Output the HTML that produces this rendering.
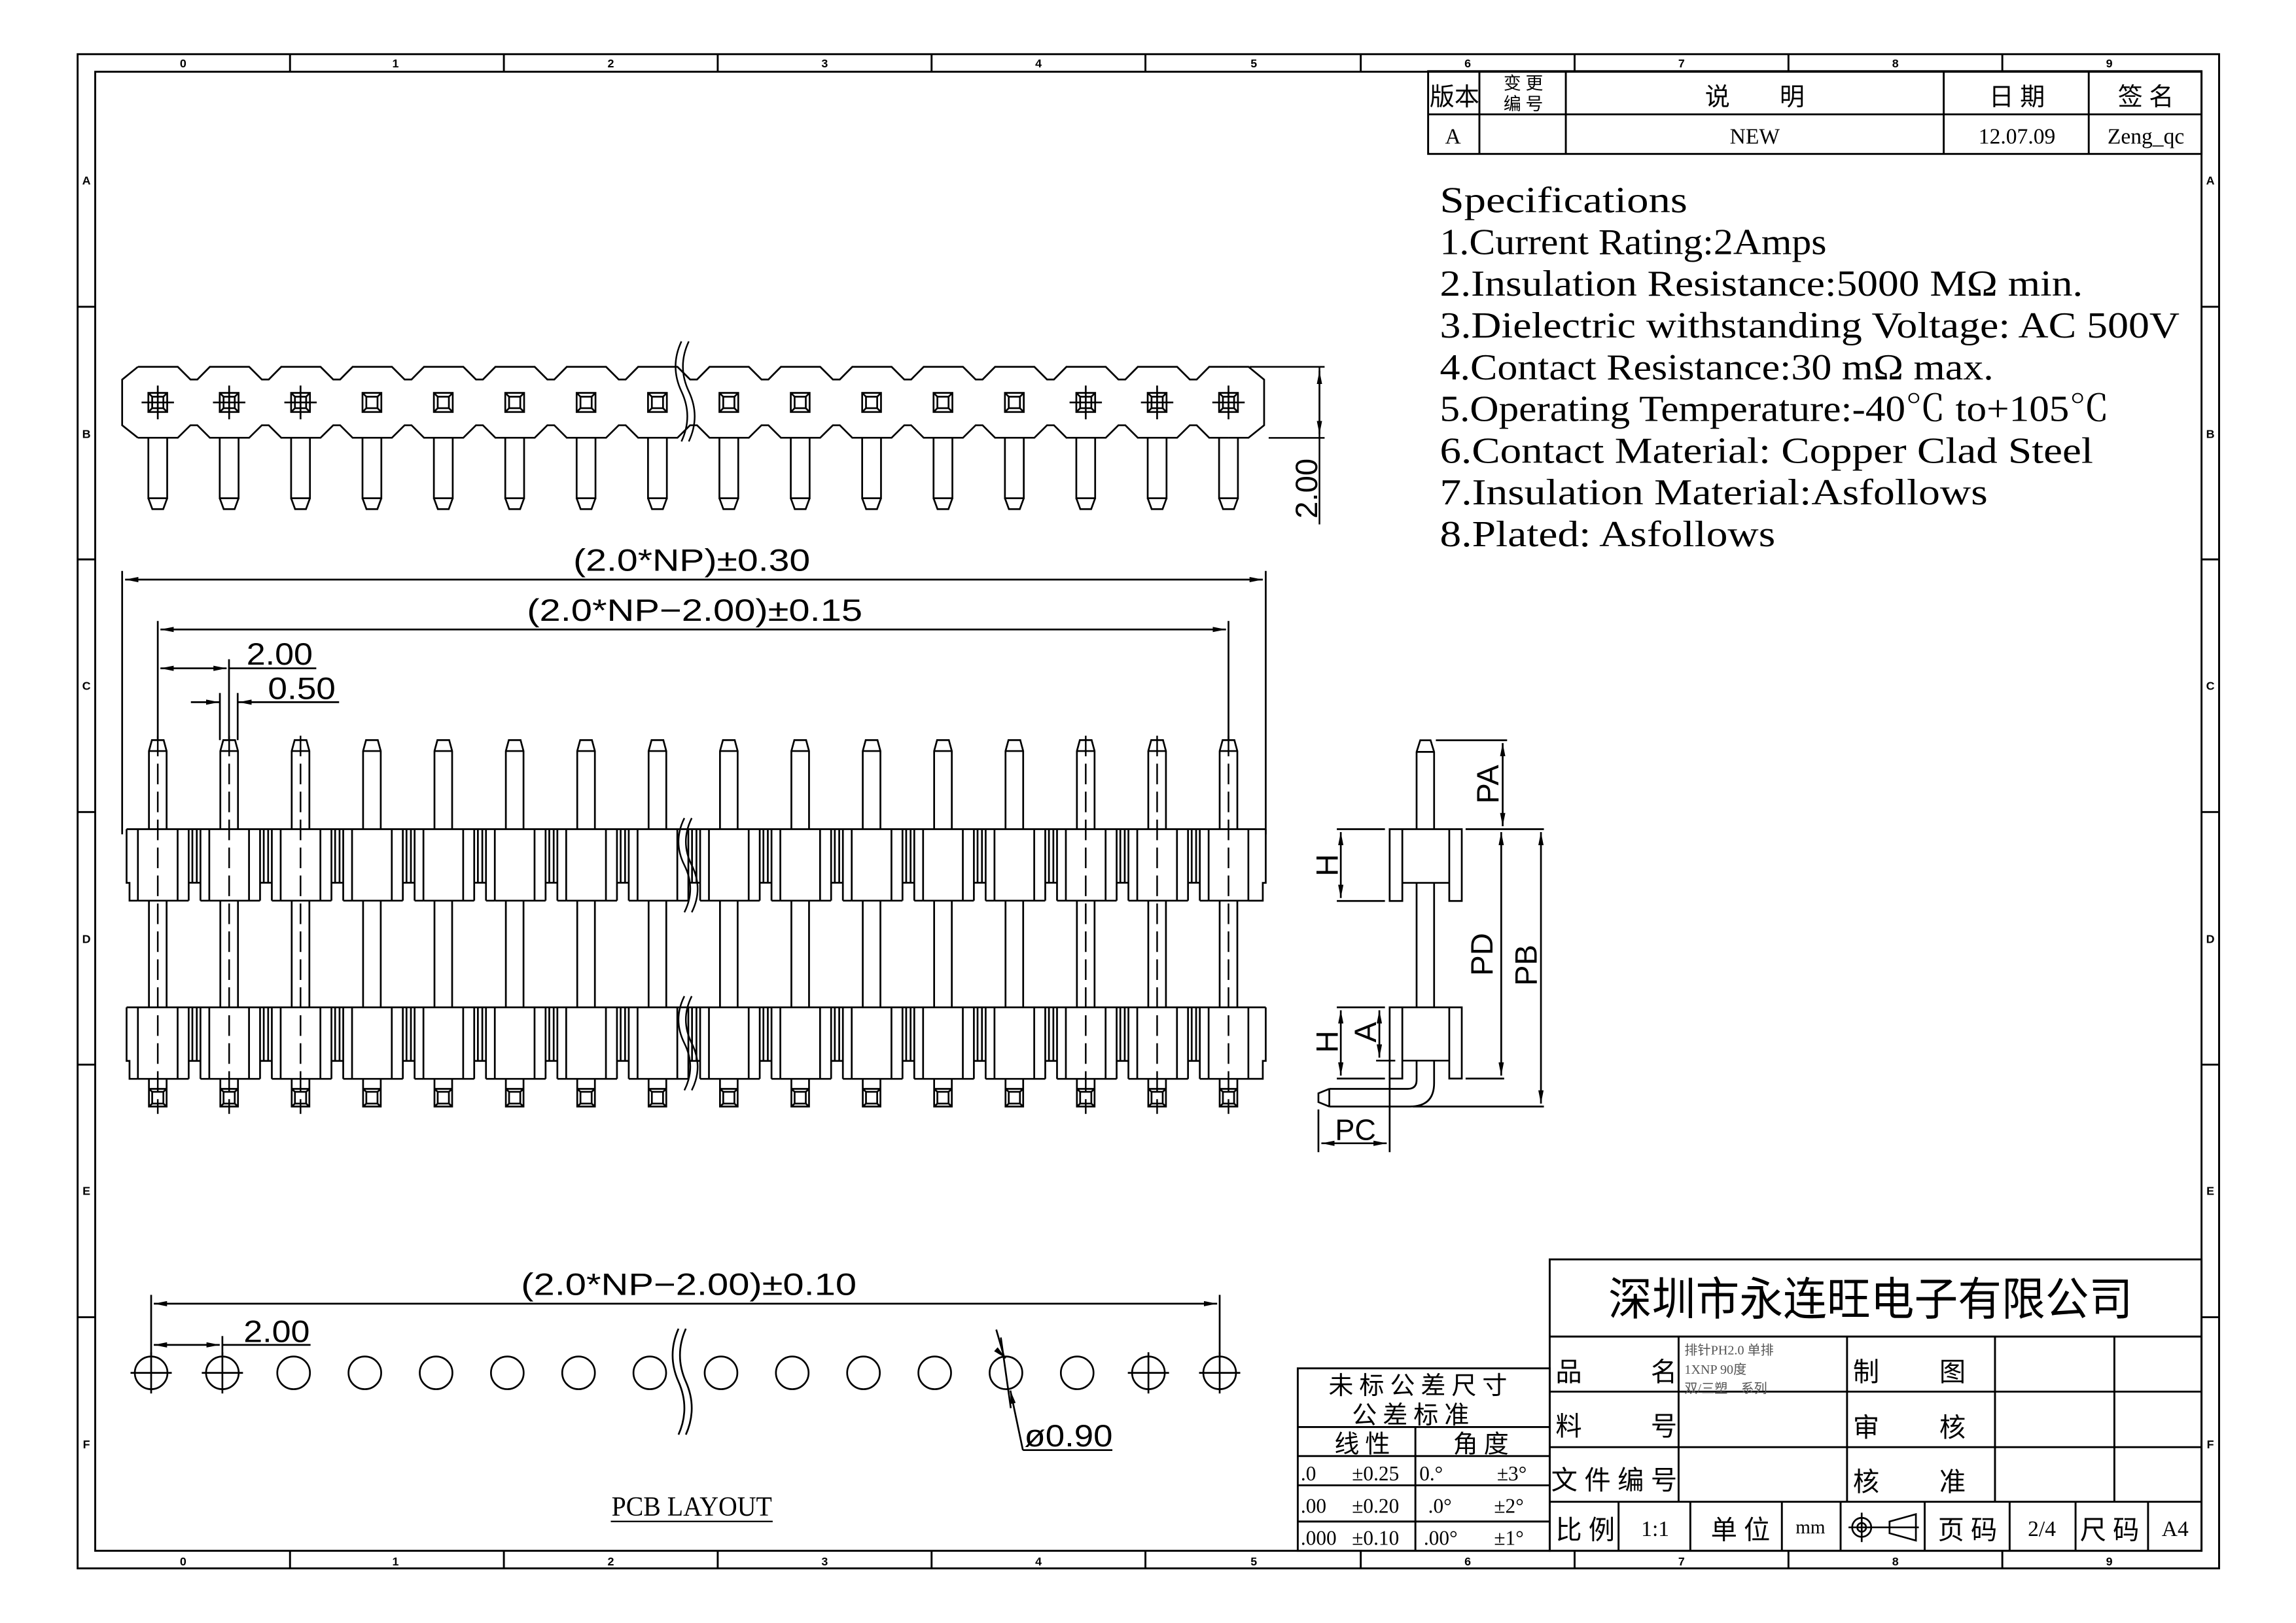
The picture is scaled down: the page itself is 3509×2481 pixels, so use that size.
<!DOCTYPE html>
<html><head><meta charset="utf-8"><style>
html,body{margin:0;padding:0;background:#fff;}
svg{display:block;}
.s{font-family:"Liberation Sans",sans-serif;}
.r{font-family:"Liberation Serif","Noto Serif CJK SC",serif;}
.c{font-family:"Liberation Serif","Noto Sans CJK SC",sans-serif;}
</style></head><body>
<svg width="3509" height="2481" viewBox="0 0 1567.5 1108.3" preserveAspectRatio="none" xmlns="http://www.w3.org/2000/svg">
<rect width="1567.5" height="1108.3" fill="#fff"/>
<defs>
<marker id="ar" viewBox="0 0 10 4" refX="10" refY="2" markerWidth="9" markerHeight="3.6" markerUnits="userSpaceOnUse" orient="auto-start-reverse"><path d="M0,0 L10,2 L0,4 Z" fill="#000"/></marker>
<g id="tvseg" fill="none" stroke="#000" stroke-width="1.2">
<path d="M-13.5,249.3 H13.6 L22.2,257.9 H26.9 L35.4,249.3 M-13.5,297.5 H13.6 L22.2,289 H26.9 L35.4,297.5"/>
</g>
<g id="tvsq" fill="none" stroke="#000" stroke-width="1.2">
<rect x="-6.4" y="267" width="12.8" height="13"/>
<rect x="-3.8" y="269.6" width="7.6" height="7.8"/>
<path d="M-6.4,267 L-3.8,269.6 M6.4,267 L3.8,269.6 M-6.4,280 L-3.8,277.4 M6.4,280 L3.8,277.4"/>
<path d="M-6.4,297.5 V338.6 H6.4 V297.5 M-6.4,338.6 L-3.7,346 H3.7 L6.4,338.6"/>
</g>
<g id="cross" stroke="#000" stroke-width="1.2"><path d="M-11,273.5 H11 M0,262 V285"/></g>
<g id="fpin" fill="none" stroke="#000" stroke-width="1.2">
<path d="M-6,563.5 V510.4 L-4,503 H4 L6,510.4 V563.5 M-6,510.4 H6"/>
<path d="M-6,612 V684.6 M6,612 V684.6"/>
<path d="M-6,733 V752 H6 V733 M-6,740 H6"/>
<rect x="-3.8" y="742" width="7.6" height="8"/>
<path d="M-6,740 L-3.8,742 M6,740 L3.8,742 M-6,752 L-3.8,750 M6,752 L3.8,750"/>
</g>
<g id="fh" fill="none" stroke="#000" stroke-width="1.2">
<path d="M-13.5,0 V48.6 M13.5,0 V48.6 M21,0 V48.6 M29,0 V48.6 M23.5,0 V36.4 M26.5,0 V36.4 M21,36.4 H29 M-13.5,48.6 H21 M29,48.6 H35"/>
</g>
<g id="fhl" fill="none" stroke="#000" stroke-width="1.2">
<path d="M-13.5,0 V48.6 M13.5,0 V48.6 M-13.5,48.6 H23.5"/>
</g>
<g id="cl" stroke="#000" stroke-width="1.1" stroke-dasharray="14 5"><path d="M0,500 V757"/></g>
<circle id="ph" cx="0" cy="933" r="11.1" fill="none" stroke="#000" stroke-width="1.2"/>
<g id="phc" stroke="#000" stroke-width="1.2"><path d="M-14,933 H14 M0,919 V947"/></g>
</defs>

<!-- frame -->
<g fill="none" stroke="#000" stroke-width="1.3">
<rect x="53" y="37" width="1462" height="1034"/>
<rect x="65" y="49" width="1438" height="1010"/>
<path d="M198,37V49M344,37V49M490,37V49M636,37V49M782,37V49M929,37V49M1075,37V49M1221,37V49M1367,37V49
M198,1059V1071M344,1059V1071M490,1059V1071M636,1059V1071M782,1059V1071M929,1059V1071M1075,1059V1071M1221,1059V1071M1367,1059V1071
M53,209.5H65M53,382H65M53,554.5H65M53,727H65M53,899.5H65
M1503,209.5H1515M1503,382H1515M1503,554.5H1515M1503,727H1515M1503,899.5H1515"/>
</g>
<g class="s" font-size="8" font-weight="bold" text-anchor="middle">
<text x="125" y="46">0</text><text x="270" y="46">1</text><text x="417" y="46">2</text><text x="563" y="46">3</text><text x="709" y="46">4</text><text x="856" y="46">5</text><text x="1002" y="46">6</text><text x="1148" y="46">7</text><text x="1294" y="46">8</text><text x="1440" y="46">9</text>
<text x="125" y="1069">0</text><text x="270" y="1069">1</text><text x="417" y="1069">2</text><text x="563" y="1069">3</text><text x="709" y="1069">4</text><text x="856" y="1069">5</text><text x="1002" y="1069">6</text><text x="1148" y="1069">7</text><text x="1294" y="1069">8</text><text x="1440" y="1069">9</text>
<text x="59" y="126">A</text><text x="59" y="299">B</text><text x="59" y="471">C</text><text x="59" y="644">D</text><text x="59" y="816">E</text><text x="59" y="989">F</text>
<text x="1509" y="126">A</text><text x="1509" y="299">B</text><text x="1509" y="471">C</text><text x="1509" y="644">D</text><text x="1509" y="816">E</text><text x="1509" y="989">F</text>
</g>

<!-- revision table -->
<g fill="none" stroke="#000" stroke-width="1.3">
<rect x="975" y="48.6" width="528" height="56.5"/>
<path d="M975,78.1H1503M1010,48.6V105M1069,48.6V105M1327,48.6V105M1426,48.6V105"/>
</g>
<g class="c" font-size="17" text-anchor="middle">
<text x="993" y="72">版本</text>
<text x="1040" y="61" font-size="12">变 更</text><text x="1040" y="75" font-size="12">编 号</text>
<text x="1198" y="72">说　　明</text><text x="1377" y="72">日 期</text><text x="1465" y="72">签 名</text>
</g>
<g class="r" font-size="15" text-anchor="middle">
<text x="992" y="98">A</text><text x="1198" y="98">NEW</text><text x="1377" y="98">12.07.09</text><text x="1465" y="98">Zeng_qc</text>
</g>

<!-- specifications -->
<g class="r" font-size="25" fill="#000">
<text x="983" y="145" textLength="169" lengthAdjust="spacingAndGlyphs">Specifications</text>
<text x="983" y="173.5" textLength="264" lengthAdjust="spacingAndGlyphs">1.Current Rating:2Amps</text>
<text x="983" y="202" textLength="439" lengthAdjust="spacingAndGlyphs">2.Insulation Resistance:5000 MΩ min.</text>
<text x="983" y="230.5" textLength="505" lengthAdjust="spacingAndGlyphs">3.Dielectric withstanding Voltage: AC 500V</text>
<text x="983" y="259" textLength="378" lengthAdjust="spacingAndGlyphs">4.Contact Resistance:30 mΩ max.</text>
<text x="983" y="287.5" textLength="457" lengthAdjust="spacingAndGlyphs">5.Operating Temperature:-40℃ to+105℃</text>
<text x="983" y="316" textLength="446" lengthAdjust="spacingAndGlyphs">6.Contact Material: Copper Clad Steel</text>
<text x="983" y="344.5" textLength="374" lengthAdjust="spacingAndGlyphs">7.Insulation Material:Asfollows</text>
<text x="983" y="373" textLength="229" lengthAdjust="spacingAndGlyphs">8.Plated: Asfollows</text>
</g>

<g transform="scale(1.0048)">
<!-- TOP VIEW -->
<g fill="none" stroke="#000" stroke-width="1.2">
<path d="M93.7,249.3 L83,258 V289 L93.7,297.5"/>
<path d="M834.7,249.3 H848.3 L858.9,258 V289 L848.3,297.5 H834.7"/>
</g>
<use href="#tvseg" x="107.2"/><use href="#tvseg" x="155.7"/><use href="#tvseg" x="204.2"/><use href="#tvseg" x="252.7"/><use href="#tvseg" x="301.2"/><use href="#tvseg" x="349.7"/><use href="#tvseg" x="398.2"/><use href="#tvseg" x="446.7"/><use href="#tvseg" x="495.2"/><use href="#tvseg" x="543.7"/><use href="#tvseg" x="592.2"/><use href="#tvseg" x="640.7"/><use href="#tvseg" x="689.2"/><use href="#tvseg" x="737.7"/><use href="#tvseg" x="786.2"/>
<g fill="none" stroke="#000" stroke-width="1.2"><path d="M821.2,249.3 H834.7 M821.2,297.5 H834.7"/></g>
<use href="#tvsq" x="107.2"/><use href="#tvsq" x="155.7"/><use href="#tvsq" x="204.2"/><use href="#tvsq" x="252.7"/><use href="#tvsq" x="301.2"/><use href="#tvsq" x="349.7"/><use href="#tvsq" x="398.2"/><use href="#tvsq" x="446.7"/><use href="#tvsq" x="495.2"/><use href="#tvsq" x="543.7"/><use href="#tvsq" x="592.2"/><use href="#tvsq" x="640.7"/><use href="#tvsq" x="689.2"/><use href="#tvsq" x="737.7"/><use href="#tvsq" x="786.2"/><use href="#tvsq" x="834.7"/>
<use href="#cross" x="107.2"/><use href="#cross" x="155.7"/><use href="#cross" x="204.2"/><use href="#cross" x="737.7"/><use href="#cross" x="786.2"/><use href="#cross" x="834.7"/>
<g fill="none" stroke="#000" stroke-width="1.1">
<path d="M463,232 q-8,17 0,34 q8,17 0,34"/><path d="M468,232 q-8,17 0,34 q8,17 0,34"/>
<path d="M849,249.3 H900 M862,297.6 H900 M896.5,249.3 V356.4"/>
<path d="M896.5,252 V295" marker-start="url(#ar)" marker-end="url(#ar)"/>
</g>
<text class="s" font-size="21" transform="translate(895,332) rotate(-90)" text-anchor="middle">2.00</text>

<!-- FRONT VIEW dims -->
<g fill="none" stroke="#000" stroke-width="1.2">
<path d="M83,388 V567 M860,388 V567 M107.2,422 V503 M834.7,422 V503 M155.6,448 V503"/>
<path d="M85,393.9 H858" marker-start="url(#ar)" marker-end="url(#ar)"/>
<path d="M109,427.8 H833" marker-start="url(#ar)" marker-end="url(#ar)"/>
<path d="M109,454.2 H154" marker-start="url(#ar)" marker-end="url(#ar)"/>
<path d="M155.6,454.2 H214.9"/>
<path d="M149.4,471 V503 M161.5,471 V503"/>
<path d="M129.7,477.2 H149" marker-end="url(#ar)"/>
<path d="M230.4,477.2 H162" marker-end="url(#ar)"/>
</g>
<g class="s" font-size="21" text-anchor="middle">
<text x="470" y="388" textLength="161" lengthAdjust="spacingAndGlyphs">(2.0*NP)±0.30</text>
<text x="472" y="422" textLength="228" lengthAdjust="spacingAndGlyphs">(2.0*NP−2.00)±0.15</text>
<text x="190" y="451.7" textLength="45" lengthAdjust="spacingAndGlyphs">2.00</text>
<text x="205" y="475" textLength="46" lengthAdjust="spacingAndGlyphs">0.50</text>
</g>

<!-- FRONT VIEW body -->
<g fill="none" stroke="#000" stroke-width="1.2">
<path d="M86,563.5 H860 M86,563.5 V600 H88 V612.1 H93.7 M860,563.5 V600 H858 V612.1 H848.2"/>
<path d="M86,684.6 H860 M86,684.6 V721 H88 V733.2 H93.7 M860,684.6 V721 H858 V733.2 H848.2"/>
</g>
<g transform="translate(0,563.5)">
<use href="#fh" x="107.2"/><use href="#fh" x="155.7"/><use href="#fh" x="204.2"/><use href="#fh" x="252.7"/><use href="#fh" x="301.2"/><use href="#fh" x="349.7"/><use href="#fh" x="398.2"/><use href="#fh" x="446.7"/><use href="#fh" x="495.2"/><use href="#fh" x="543.7"/><use href="#fh" x="592.2"/><use href="#fh" x="640.7"/><use href="#fh" x="689.2"/><use href="#fh" x="737.7"/><use href="#fh" x="786.2"/><use href="#fhl" x="834.7"/>
</g>
<g transform="translate(0,684.6)">
<use href="#fh" x="107.2"/><use href="#fh" x="155.7"/><use href="#fh" x="204.2"/><use href="#fh" x="252.7"/><use href="#fh" x="301.2"/><use href="#fh" x="349.7"/><use href="#fh" x="398.2"/><use href="#fh" x="446.7"/><use href="#fh" x="495.2"/><use href="#fh" x="543.7"/><use href="#fh" x="592.2"/><use href="#fh" x="640.7"/><use href="#fh" x="689.2"/><use href="#fh" x="737.7"/><use href="#fh" x="786.2"/><use href="#fhl" x="834.7"/>
</g>
<use href="#fpin" x="107.2"/><use href="#fpin" x="155.7"/><use href="#fpin" x="204.2"/><use href="#fpin" x="252.7"/><use href="#fpin" x="301.2"/><use href="#fpin" x="349.7"/><use href="#fpin" x="398.2"/><use href="#fpin" x="446.7"/><use href="#fpin" x="495.2"/><use href="#fpin" x="543.7"/><use href="#fpin" x="592.2"/><use href="#fpin" x="640.7"/><use href="#fpin" x="689.2"/><use href="#fpin" x="737.7"/><use href="#fpin" x="786.2"/><use href="#fpin" x="834.7"/>
<use href="#cl" x="107.2"/><use href="#cl" x="155.7"/><use href="#cl" x="204.2"/><use href="#cl" x="737.7"/><use href="#cl" x="786.2"/><use href="#cl" x="834.7"/>
<g fill="none" stroke="#000" stroke-width="1.1">
<path d="M465,556 q-8,16 0,32 q8,16 0,32"/><path d="M470,556 q-8,16 0,32 q8,16 0,32"/>
<path d="M465,677 q-8,16 0,32 q8,16 0,32"/><path d="M470,677 q-8,16 0,32 q8,16 0,32"/>
</g>

<!-- SIDE VIEW -->
<g fill="none" stroke="#000" stroke-width="1.2">
<path d="M962.5,563.5 V511 L965,503.1 H972 L974.4,511 V563.5 M962.5,511 H974.4"/>
<path d="M944.2,563.5 H993.2 V612.3 H984.7 V600 H952.8 V612.3 H944.2 Z M952.8,563.5 V600 M984.7,563.5 V600"/>
<path d="M944.2,684.6 H993.2 V733 H984.7 V720.8 H952.8 V733 H944.2 Z M952.8,684.6 V720.8 M984.7,684.6 V720.8"/>
<path d="M962.5,600 V684.6 M974.4,600 V684.6"/>
<path d="M962.5,720.8 V734 Q962.5,740 956.5,740 H903.2 M974.4,720.8 V736 Q974.4,752 958,752 H903.2 M903.2,740 V752 M903.2,740 L895.8,743 V749 L903.2,752"/>
<path d="M975.6,503.1 H1024 M995.8,563.5 H1049 M995.8,733 H1022 M960,752 H1049"/>
<path d="M908.3,563.5 H941 M908.3,612.3 H941 M908.3,684.6 H941 M908.3,733 H941 M935,720.8 H948"/>
<path d="M895.8,754 V783 M944.2,733 V783"/>
<path d="M1021,505 V561.5" marker-start="url(#ar)" marker-end="url(#ar)"/>
<path d="M1020,565.5 V731" marker-start="url(#ar)" marker-end="url(#ar)"/>
<path d="M1047,565.5 V750" marker-start="url(#ar)" marker-end="url(#ar)"/>
<path d="M911,565.5 V610.3" marker-start="url(#ar)" marker-end="url(#ar)"/>
<path d="M911,686.6 V731" marker-start="url(#ar)" marker-end="url(#ar)"/>
<path d="M937.2,686.6 V718.8" marker-start="url(#ar)" marker-end="url(#ar)"/>
<path d="M897.8,777 H942.2" marker-start="url(#ar)" marker-end="url(#ar)"/>
</g>
<g class="s" font-size="21" text-anchor="middle">
<text transform="translate(1018,533) rotate(-90)">PA</text>
<text transform="translate(1014,648.6) rotate(-90)">PD</text>
<text transform="translate(1044,656) rotate(-90)">PB</text>
<text transform="translate(909,588) rotate(-90)">H</text>
<text transform="translate(909,708) rotate(-90)">H</text>
<text transform="translate(935,701.5) rotate(-90)">A</text>
<text x="921" y="774.6" font-size="20">PC</text>
</g>

<!-- PCB LAYOUT -->
<g fill="none" stroke="#000" stroke-width="1.2">
<path d="M102.7,880 V921 M828.7,880 V921 M151.1,908 V921"/>
<path d="M104.5,886 H827" marker-start="url(#ar)" marker-end="url(#ar)"/>
<path d="M104.5,914 H149.3" marker-start="url(#ar)" marker-end="url(#ar)"/>
<path d="M151.1,914 H211"/>
<path d="M461,903 q-8,18 0,36 q8,18 0,36"/><path d="M466,903 q-8,18 0,36 q8,18 0,36"/>
<path d="M676.9,903.6 L682.2,922"/>
<path d="M682.2,922 L683.3,923" marker-end="url(#ar)"/>
<path d="M695,985.5 L686.5,945" marker-end="url(#ar)"/>
<path d="M695,985.5 H755.8"/>
</g>
<use href="#ph" x="102.7"/><use href="#ph" x="151.1"/><use href="#ph" x="199.5"/><use href="#ph" x="247.9"/><use href="#ph" x="296.3"/><use href="#ph" x="344.7"/><use href="#ph" x="393.1"/><use href="#ph" x="441.5"/><use href="#ph" x="489.9"/><use href="#ph" x="538.3"/><use href="#ph" x="586.7"/><use href="#ph" x="635.1"/><use href="#ph" x="683.5"/><use href="#ph" x="731.9"/><use href="#ph" x="780.3"/><use href="#ph" x="828.7"/>
<use href="#phc" x="102.7"/><use href="#phc" x="151.1"/><use href="#phc" x="780.3"/><use href="#phc" x="828.7"/>
<g stroke="#000" stroke-width="1.2"><path d="M680,909 L686.8,957"/></g>
<g class="s" font-size="21" text-anchor="middle">
<text x="468" y="880" textLength="228" lengthAdjust="spacingAndGlyphs">(2.0*NP−2.00)±0.10</text>
<text x="188" y="912" textLength="45" lengthAdjust="spacingAndGlyphs">2.00</text>
<text x="726" y="983" textLength="60" lengthAdjust="spacingAndGlyphs">ø0.90</text>
</g>
<text class="r" x="470" y="1030" font-size="19" text-anchor="middle" textLength="109" lengthAdjust="spacingAndGlyphs">PCB LAYOUT</text>
<path d="M415,1034 H525" stroke="#000" stroke-width="1"/>
</g>

<!-- Title block -->
<g fill="none" stroke="#000" stroke-width="1.3">
<rect x="1058" y="860" width="445" height="199"/>
<path d="M1058,912.7 H1503 M1058,950.3 H1503 M1058,988.2 H1503 M1058,1025.5 H1503"/>
<path d="M1146,912.7 V1025.5 M1261,912.7 V1025.5 M1362,912.7 V1025.5 M1443.5,912.7 V1025.5"/>
<path d="M1105,1025.5 V1059 M1154,1025.5 V1059 M1216.5,1025.5 V1059 M1256.6,1025.5 V1059 M1314,1025.5 V1059 M1372,1025.5 V1059 M1417,1025.5 V1059 M1466.5,1025.5 V1059"/>
<rect x="886" y="934.4" width="172" height="124.6"/>
<path d="M886,974.5 H1058 M886,994.3 H1058 M886,1014.3 H1058 M886,1039 H1058 M966.3,974.5 V1059"/>
</g>
<text class="c" x="1098" y="898" font-size="31" textLength="358" lengthAdjust="spacingAndGlyphs">深圳市永连旺电子有限公司</text>
<g class="c" font-size="18">
<text x="1062" y="943">品</text><text x="1127" y="943">名</text>
<text x="1062" y="980">料</text><text x="1127" y="980">号</text>
<text x="1059" y="1017" textLength="86" lengthAdjust="spacing">文件编号</text>
<text x="1062" y="1051">比 例</text>
<text x="1168" y="1051">单 位</text>
<text x="1265" y="943">制</text><text x="1324" y="943">图</text>
<text x="1265" y="981">审</text><text x="1324" y="981">核</text>
<text x="1265" y="1018">核</text><text x="1324" y="1018">准</text>
<text x="1323" y="1051">页 码</text>
<text x="1420" y="1051">尺 码</text>
</g>
<g class="c" font-size="9" fill="#555">
<text x="1150" y="925">排针PH2.0 单排</text>
<text x="1150" y="938">1XNP 90度</text>
<text x="1150" y="951">双/三塑　系列</text>
</g>
<g class="r" font-size="15" text-anchor="middle">
<text x="1130" y="1049">1:1</text>
<text x="1236" y="1047" font-size="13">mm</text>
<text x="1394" y="1049">2/4</text>
<text x="1485" y="1049">A4</text>
</g>
<g fill="none" stroke="#000" stroke-width="1.2">
<circle cx="1271" cy="1043" r="6.5"/><circle cx="1271" cy="1043" r="3"/>
<path d="M1262,1043 H1310 M1271,1033 V1053 M1290,1039 L1308,1034 V1052 L1290,1047 Z"/>
</g>
<g class="c" font-size="17" text-anchor="middle">
<text x="970" y="952" letter-spacing="4">未标公差尺寸</text>
<text x="965" y="972" letter-spacing="4">公差标准</text>
<text x="932" y="992" letter-spacing="4">线性</text>
<text x="1013" y="992" letter-spacing="4">角度</text>
</g>
<g class="r" font-size="14">
<text x="888" y="1011">.0</text><text x="923" y="1011">±0.25</text><text x="969" y="1011">0.°</text><text x="1022" y="1011">±3°</text>
<text x="888" y="1033">.00</text><text x="923" y="1033">±0.20</text><text x="975" y="1033">.0°</text><text x="1020" y="1033">±2°</text>
<text x="888" y="1055">.000</text><text x="923" y="1055">±0.10</text><text x="972" y="1055">.00°</text><text x="1020" y="1055">±1°</text>
</g>
</svg>
</body></html>
